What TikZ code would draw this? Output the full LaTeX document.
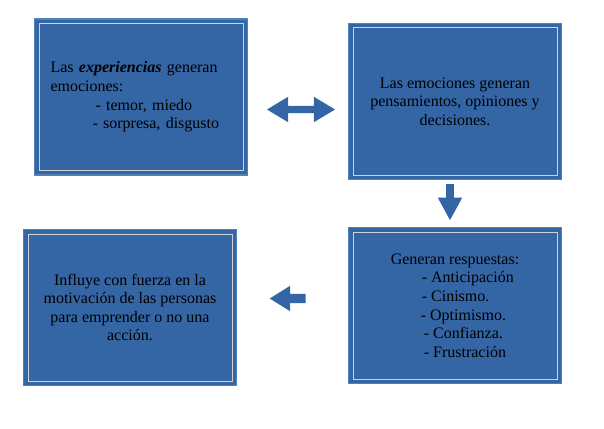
\documentclass[tikz,border=0pt]{standalone}
\usepackage{fontspec}
\setmainfont{Liberation Serif}
\usetikzlibrary{shapes.arrows}
\definecolor{boxblue}{RGB}{52,101,164}
\definecolor{rimblue}{RGB}{79,129,189}
\definecolor{rimline}{RGB}{210,210,210}
\tikzstyle{box}=[rectangle,fill=boxblue,draw=rimblue,line width=1.6pt,minimum width=213pt,minimum height=156pt,inner sep=0pt,text=black,font=\fontsize{16}{18.6}\selectfont,
  path picture={\draw[rimline,line width=1pt] ([shift={(4.5pt,4.5pt)}]path picture bounding box.south west) rectangle ([shift={(-4.5pt,-4.5pt)}]path picture bounding box.north east);}]
\tikzstyle{blockarrow}=[fill=boxblue,draw=none,inner xsep=0pt,minimum width=0pt]

\begin{document}
\begin{tikzpicture}[x=1pt,y=-1pt]
				\useasboundingbox[fill=white] (0,0) rectangle (604,428);

				% First we draw the boxes
				\node[box,align=left,text width=181pt,inner xsep=16pt] (experiencias) at (141,97)
					{Las \textbf{\textit{experiencias}} generan\\emociones:\\\hspace*{45pt}- temor, miedo\\\hspace*{42pt}- sorpresa, disgusto};
				\node[box,align=center] (emociones) at (455,101.5)
					{Las emociones generan\\pensamientos, opiniones y\\decisiones.};
				\node[box,align=left] (respuestas) at (455,305.5)
					{Generan respuestas:\\\hspace*{31pt}- Anticipación\\\hspace*{31pt}- Cinismo.\\\hspace*{30pt}- Optimismo.\\\hspace*{33pt}- Confianza.\\\hspace*{33pt}- Frustración};
				\node[box,align=center] (motivacion) at (130,307.5)
					{Influye con fuerza en la\\motivación de las personas\\para emprender o no una\\acción.};

				% Then the block arrows between them
				\node[blockarrow,double arrow,double arrow head extend=9pt,double arrow tip angle=62,inner ysep=3.5pt,minimum height=68pt] (ida) at (301,109.5) {};
				\node[blockarrow,single arrow,single arrow head extend=8.25pt,single arrow tip angle=57,inner ysep=3.75pt,minimum height=36pt,rotate=-90] (baja) at (450,198.5) {};
				\node[blockarrow,single arrow,single arrow head extend=8pt,single arrow tip angle=64,inner ysep=4.5pt,minimum height=36pt,rotate=180] (vuelve) at (291.5,298.5) {};
			\end{tikzpicture}
\end{document}
